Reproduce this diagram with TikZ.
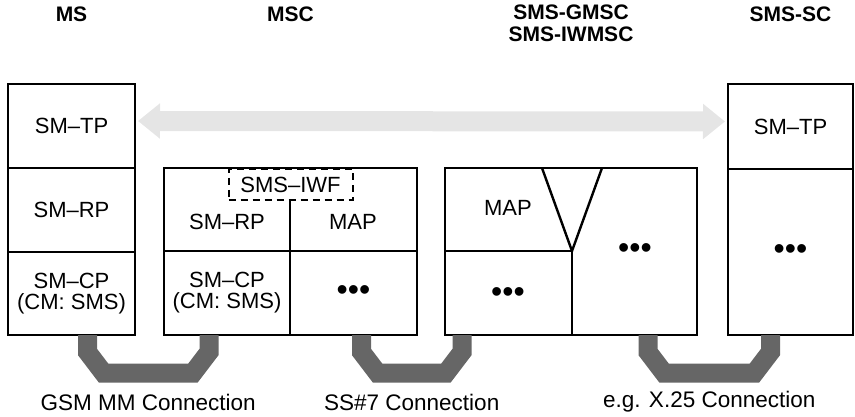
\documentclass[tikz,border=0pt]{standalone}
\usepackage{fontspec}
\setmainfont{Liberation Sans}
\usepackage{tikz}
\usetikzlibrary{arrows.meta, positioning, calc}

\newcommand{\bulletrow}{{\fontsize{32}{32}\selectfont\textbullet\textbullet\textbullet}}
\newcommand{\linkpath}[2]{\draw[link] (#1) -- ++(0,17) -- ++(16,21) -- ($(#2)+(-16,38)$) -- ($(#2)+(0,17)$) -- (#2);}

\begin{document}
\begin{tikzpicture}[
    x=1pt, y=-1pt,
    font=\fontsize{22}{21}\selectfont,
    cell/.style={rectangle, draw, line width=2.4pt, align=center, inner sep=0pt, outer sep=0pt},
    frame/.style={rectangle, draw, line width=2.4pt, inner sep=0pt, outer sep=0pt},
    iwfbox/.style={rectangle, draw, dash pattern=on 7pt off 5pt, line width=2pt, inner sep=0pt, minimum width=124pt, minimum height=31pt, anchor=north},
    header/.style={font=\bfseries\fontsize{21}{21.5}\selectfont, align=center, anchor=north, inner sep=0pt},
    connlabel/.style={font=\fontsize{22.5}{22.5}\selectfont},
    bigarrow/.style={{Triangle[length=22pt,width=34pt]}-{Triangle[length=22pt,width=34pt]}, line width=20pt, draw=black!10},
    link/.style={line width=19pt, draw=black!60, line join=miter}
]
\useasboundingbox (0,0) rectangle (855,417);

\node[header] (ms-title) at (71.5,7) {MS};
\node[header] (msc-title) at (290.5,7) {MSC};
\node[header] (gmsc-title) at (571,5) {SMS-GMSC\\SMS-IWMSC};
\node[header] (sc-title) at (790.5,7) {SMS-SC};

\node[cell, minimum width=127pt, minimum height=84pt, anchor=north west] (ms-tp) at (8,84) {SM–TP};
\node[cell, minimum width=127pt, minimum height=84pt, below=0pt of ms-tp] (ms-rp) {SM–RP};
\node[cell, minimum width=127pt, minimum height=83pt, below=0pt of ms-rp] (ms-cp) {SM–CP\\(CM: SMS)};

\node[frame, minimum width=253pt, minimum height=167pt, anchor=north west] (msc) at (164,168) {};
\node[cell, minimum width=126pt, minimum height=84pt, anchor=south west] (msc-cp) at (msc.south west) {SM–CP\\(CM: SMS)};
\node[cell, minimum width=127pt, minimum height=84pt, right=0pt of msc-cp] (msc-more) {\bulletrow};
\node[iwfbox] (iwf) at (msc.north) {SMS–IWF};
\node (msc-rp) at (227,222) {SM–RP};
\node (msc-map) at (353,222) {MAP};
\draw[line width=2.4pt] (iwf.south -| msc-cp.north east) -- (msc-cp.north east);

\node[frame, minimum width=252pt, minimum height=167pt, anchor=north west] (gmsc) at (445,168) {};
\coordinate (v-tip) at (572,251);
\coordinate (v-left) at (542,168);
\coordinate (v-right) at (602,168);
\draw[line width=2.4pt] (gmsc.west |- v-tip) -- (v-tip) -- (v-tip |- gmsc.south);
\draw[line width=2.4pt] (v-left) -- (v-tip) -- (v-right);
\node (gmsc-map) at (508,208) {MAP};
\node (gmsc-more) at (508,295) {\bulletrow};
\node (gmsc-right) at (635,251) {\bulletrow};

\node[cell, minimum width=125pt, minimum height=85pt, anchor=north west] (sc-tp) at (728,84) {SM–TP};
\node[cell, minimum width=125pt, minimum height=166pt, below=0pt of sc-tp] (sc-low) {\bulletrow};

\draw[bigarrow, shorten <=3pt, shorten >=3pt] ([yshift=5pt]ms-tp.east) -- ([yshift=5pt]sc-tp.west);

\coordinate (gsm-a) at ([xshift=16pt]ms-cp.south);
\coordinate (gsm-b) at ([xshift=-18pt]msc-cp.south);
\coordinate (ss7-a) at ([xshift=8pt]msc-more.south);
\coordinate (ss7-b) at ([xshift=17pt]gmsc.south west);
\coordinate (x25-a) at ([xshift=-49pt]gmsc.south east);
\coordinate (x25-b) at ([xshift=-20pt]sc-low.south);
\linkpath{gsm-a}{gsm-b}
\linkpath{ss7-a}{ss7-b}
\linkpath{x25-a}{x25-b}

\node[connlabel] (gsm-text) at ($(gsm-a)!0.5!(gsm-b)+(0,67)$) {GSM MM Connection};
\node[connlabel] (ss7-text) at ($(ss7-a)!0.5!(ss7-b)+(0,67)$) {SS\#7 Connection};
\node[connlabel] (x25-text) at ($(x25-a)!0.5!(x25-b)+(0,67)$) {e.g. X.25 Connection};
\end{tikzpicture}
\end{document}
